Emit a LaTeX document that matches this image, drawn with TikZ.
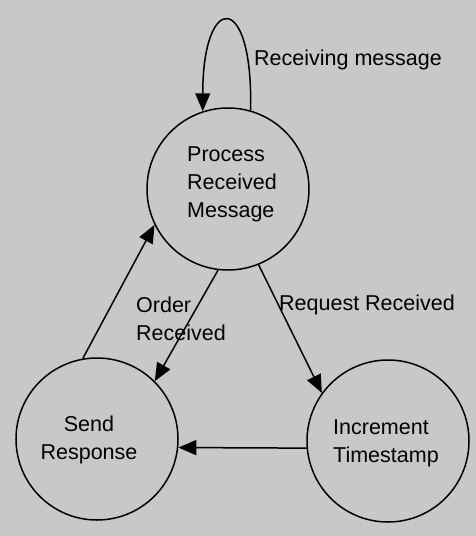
\documentclass[tikz,border=0pt]{standalone}
\usepackage{fontspec}
\setmainfont{Liberation Sans}
\usetikzlibrary{arrows.meta}
\definecolor{bg}{RGB}{200,200,200}
\begin{document}
\begin{tikzpicture}[x=1pt,y=-1pt,
  state/.style={circle,draw,line width=1.5pt,inner sep=0pt,minimum size=162pt},
  lbl/.style={font=\fontsize{21.5}{28}\selectfont,inner sep=0pt},
  arr/.style={line width=1.5pt,-{Triangle[length=18pt,width=15pt]}}]
\fill[bg] (0,0) rectangle (476,536);
\useasboundingbox (0,0) rectangle (476,536);
\node[state] (P) at (228,189) {};
\node[state] (S) at (97,439) {};
\node[state] (I) at (388,441) {};
\node[lbl,anchor=west,align=left] (Pt) at (187,184) {Process\\Received\\Message};
\node[lbl,align=center] (St) at (89,440) {Send\\Response};
\node[lbl,anchor=west,align=left] (It) at (333,443) {Increment\\Timestamp};
\draw[arr] (P.74) .. controls +(3,-120) and +(0,-120) .. (P.108);
\node[lbl,anchor=west] (l1) at (254,60) {Receiving message};
\draw[arr] (P.-97) -- (S.45);
\node[lbl,anchor=west,align=left] (l2) at (136,319) {Order\\Received};
\draw[arr] (P.-68) -- (I.144);
\node[lbl,anchor=west] (l3) at (279,305) {Request Received};
\draw[arr] (I.185) -- (S.-6);
\draw[arr] (S.100) -- (P.206);
\end{tikzpicture}
\end{document}
